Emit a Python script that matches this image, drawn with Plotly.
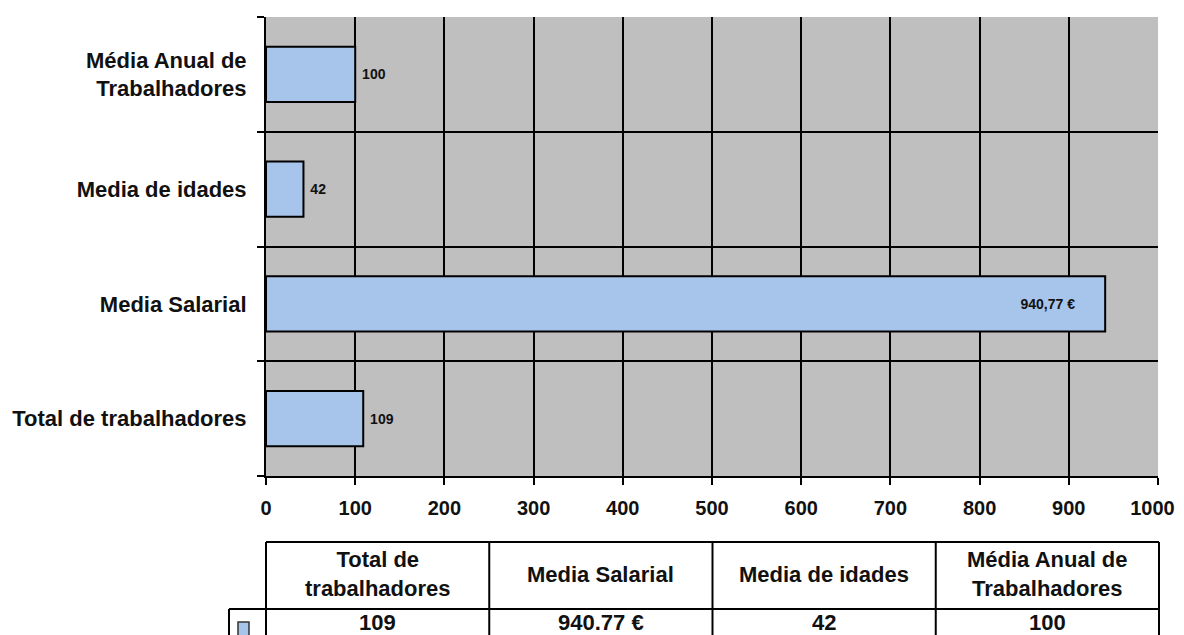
import plotly.graph_objects as go

# ---- data ----
categories = ["Total de trabalhadores", "Media Salarial", "Media de idades", "Média Anual de Trabalhadores"]
tick_labels = ["Total de trabalhadores", "Media Salarial", "Media de idades", "Média Anual de<br>Trabalhadores"]
values = [109, 940.77, 42, 100]
bar_labels = ["109", "940,77 €", "42", "100"]
table_headers = ["Total de<br>trabalhadores", "Media Salarial", "Media de idades", "Média Anual de<br>Trabalhadores"]
table_values = ["109", "940.77 €", "42", "100"]
x_ticks = [0, 100, 200, 300, 400, 500, 600, 700, 800, 900, 1000]

W, H = 1184, 635
OFF = 8  # page body margin offset
FONT = "Liberation Sans, Arial, sans-serif"
BAR_COLOR = "#a7c4ea"
BG = "#bfbfbf"


def px(x):
    return (x - OFF) / W


def py(y):
    return 1 - (y - OFF) / H


positions = list(range(len(categories)))
text_pos = ["outside", "inside", "outside", "outside"]
templates = ["\u00a0%{text}" if p == "outside" else "%{text}" + "\u00a0" * 7 for p in text_pos]

# keep the last x label inside the visible page edge
x_ticktext = [str(v) for v in x_ticks]
x_ticktext[-1] = x_ticktext[-1] + "\u00a0\u00a0"

fig = go.Figure()
fig.add_trace(go.Bar(
    x=values,
    y=positions,
    orientation="h",
    marker=dict(color=BAR_COLOR, line=dict(color="black", width=2)),
    width=0.48,
    text=bar_labels,
    texttemplate=templates,
    textposition=text_pos,
    insidetextanchor="end",
    textfont=dict(family=FONT, size=14, color="#111", weight="bold"),
    cliponaxis=False,
    showlegend=False,
    hoverinfo="skip",
))

fig.update_layout(
    width=W, height=H,
    margin=dict(l=0, r=0, t=0, b=0),
    paper_bgcolor="white",
    plot_bgcolor=BG,
    font=dict(family=FONT, color="black"),
    xaxis=dict(
        domain=[px(266), px(1158)],
        range=[0, 1000],
        tickvals=x_ticks,
        ticktext=x_ticktext,
        ticks="outside", ticklen=7, tickwidth=2, tickcolor="black",
        showgrid=False,
        minor=dict(tickvals=x_ticks[1:-1], ticks="", showgrid=True,
                   gridcolor="black", gridwidth=2),
        showline=True, linecolor="black", linewidth=2,
        zeroline=False,
        tickfont=dict(family=FONT, size=20, weight="bold", color="#111"),
        ticklabelstandoff=6,
        automargin=False,
        anchor="y",
    ),
    yaxis=dict(
        domain=[py(476), py(17)],
        range=[-0.5, len(categories) - 0.5],
        tickvals=positions,
        ticktext=tick_labels,
        ticks="",
        showgrid=False,
        showline=True, linecolor="black", linewidth=2,
        zeroline=False,
        tickfont=dict(family=FONT, size=22, weight="bold", color="#111"),
        ticklabelstandoff=13,
        automargin=False,
        minor=dict(
            tickvals=[p - 0.5 for p in positions] + [positions[-1] + 0.5],
            ticks="outside", ticklen=7, tickwidth=2, tickcolor="black",
            showgrid=True, gridcolor="black", gridwidth=2,
        ),
        anchor="x",
    ),
)

# ---- data table below the chart ----
tbl_left, tbl_right = 266, 1159
key_left = 229
row_top, row_mid, row_bot = 542, 609, 670
col_w = (tbl_right - tbl_left) / len(table_headers)
col_edges = [tbl_left + i * col_w for i in range(len(table_headers) + 1)]

shapes = []
line = dict(color="black", width=2)
shapes.append(dict(type="line", xref="paper", yref="paper",
                   x0=px(tbl_left), x1=px(tbl_right), y0=py(row_top), y1=py(row_top), line=line))
shapes.append(dict(type="line", xref="paper", yref="paper",
                   x0=px(key_left), x1=px(tbl_right), y0=py(row_mid), y1=py(row_mid), line=line))
for xe in col_edges:
    shapes.append(dict(type="line", xref="paper", yref="paper",
                       x0=px(xe), x1=px(xe), y0=py(row_top), y1=py(row_bot), line=line))
shapes.append(dict(type="line", xref="paper", yref="paper",
                   x0=px(key_left), x1=px(key_left), y0=py(row_mid), y1=py(row_bot), line=line))
# legend key
shapes.append(dict(type="rect", xref="paper", yref="paper",
                   x0=px(238), x1=px(249), y0=py(622), y1=py(640),
                   fillcolor=BAR_COLOR, line=dict(color="#333", width=1.5)))

annotations = []
for i, (hdr, val) in enumerate(zip(table_headers, table_values)):
    cx = (col_edges[i] + col_edges[i + 1]) / 2
    annotations.append(dict(xref="paper", yref="paper", x=px(cx), y=py(574),
                            text=hdr, showarrow=False, xanchor="center", yanchor="middle",
                            font=dict(family=FONT, size=22, weight="bold", color="#111")))
    annotations.append(dict(xref="paper", yref="paper", x=px(cx), y=py(622),
                            text=val, showarrow=False, xanchor="center", yanchor="middle",
                            font=dict(family=FONT, size=22, weight="bold", color="#111")))

fig.update_layout(shapes=shapes, annotations=annotations)

fig.write_html("out.html")
